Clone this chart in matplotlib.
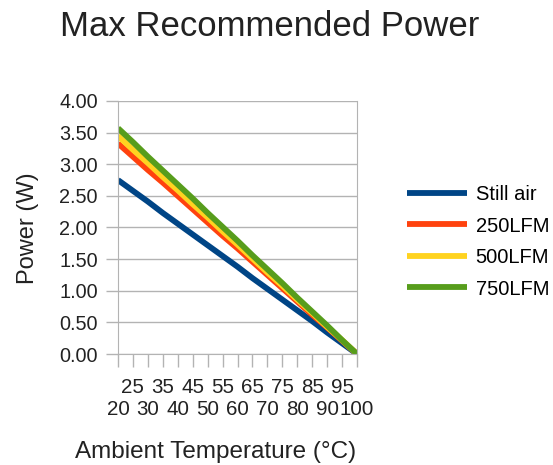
import numpy as np
import matplotlib
matplotlib.use("Agg")
import matplotlib.pyplot as plt

temps = [20, 25, 30, 35, 40, 45, 50, 55, 60, 65, 70, 75, 80, 85, 90, 95, 100]
still_air = [2.75, 2.58, 2.41, 2.23, 2.06, 1.89, 1.72, 1.55, 1.38, 1.20, 1.03, 0.86, 0.69, 0.52, 0.34, 0.17, 0.00]
lfm250 = [3.33, 3.12, 2.91, 2.71, 2.50, 2.29, 2.08, 1.87, 1.67, 1.46, 1.25, 1.04, 0.83, 0.62, 0.42, 0.21, 0.00]
lfm500 = [3.45, 3.23, 3.02, 2.80, 2.59, 2.37, 2.16, 1.94, 1.73, 1.51, 1.29, 1.08, 0.86, 0.65, 0.43, 0.22, 0.00]
lfm750 = [3.57, 3.35, 3.12, 2.90, 2.68, 2.46, 2.23, 2.01, 1.79, 1.56, 1.34, 1.12, 0.89, 0.67, 0.45, 0.22, 0.00]
series_names = ["Still air", "250LFM", "500LFM", "750LFM"]
colors = ["#004586", "#ff420e", "#ffd320", "#579d1c"]

plt.rcParams['font.family'] = ['Liberation Sans', 'DejaVu Sans']

W, H = 553, 465
fig = plt.figure(figsize=(W / 100, H / 100), dpi=100)
ax = fig.add_axes([118 / W, 1 - 354 / H, (357 - 118) / W, (354 - 101) / H])

for vals, name, c in zip([still_air, lfm250, lfm500, lfm750], series_names, colors):
	ax.plot(temps, vals, color=c, lw=4.2, label=name, solid_capstyle='butt')

ax.set_xlim(20, 100)
ax.set_ylim(0, 4)
ax.set_yticks(np.arange(0, 4.01, 0.5))
ax.set_yticklabels(["%.2f" % v for v in np.arange(0, 4.01, 0.5)], fontsize=14.3, color="#222222")
ax.set_xticks(temps)
ax.set_xticklabels([("\n" if i % 2 == 0 else "") + str(t) for i, t in enumerate(temps)],
				   fontsize=14.8, color="#222222", linespacing=1.2)
ax.tick_params(axis='both', length=9, color="#b3b3b3", width=1)
ax.tick_params(axis='x', pad=8)
ax.tick_params(axis='y', pad=5.5)
ax.grid(axis='y', color="#b3b3b3", lw=1)
ax.set_axisbelow(True)
for s in ['left', 'bottom', 'right']:
	ax.spines[s].set_color("#b3b3b3")
ax.spines['top'].set_visible(False)

fig.text(270 / W, 1 - 27 / H, "Max Recommended Power", fontsize=25, ha='center', va='center', color="#222222")
fig.text(28 / W, 1 - 228 / H, "Power (W)", fontsize=17, rotation=90, ha='center', va='center', color="#222222")
fig.text(216 / W, 1 - 452 / H, "Ambient Temperature (°C)", fontsize=17.5, ha='center', va='center', color="#222222")

fig.legend(loc='upper left', bbox_to_anchor=(399 / W, 1 - 177 / H), frameon=False, fontsize=14.5,
		   handlelength=3.0, handletextpad=0.4, labelspacing=0.62, borderaxespad=0)

plt.savefig("out.png", dpi=100)
